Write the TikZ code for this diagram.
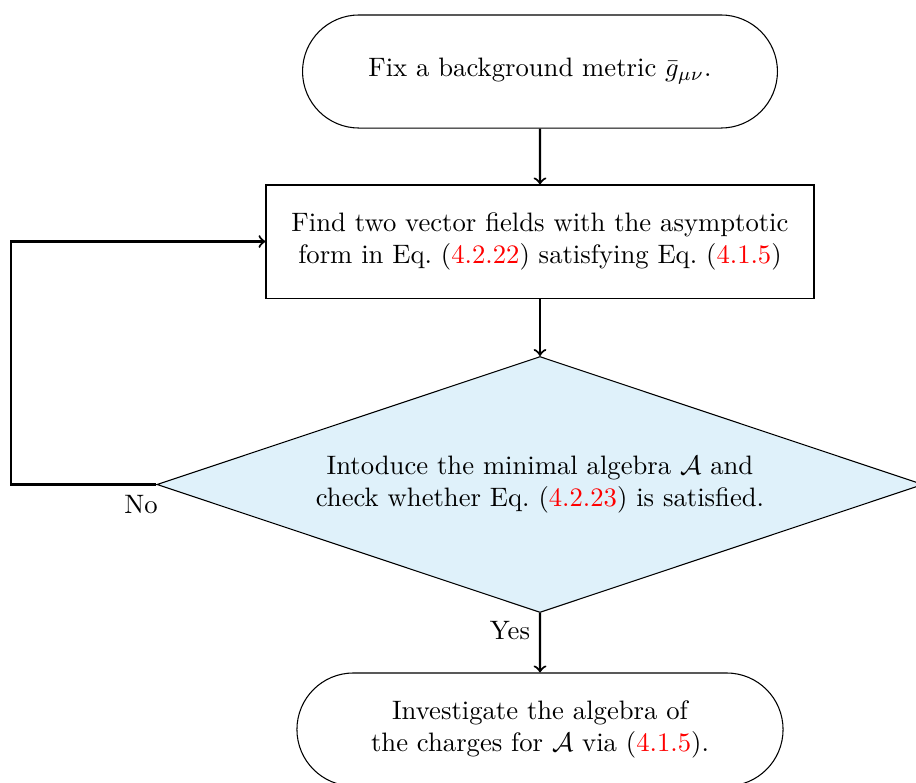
\documentclass[tikz,border=0pt]{standalone}
\usetikzlibrary{shapes.misc,shapes.geometric}
\definecolor{decfill}{RGB}{223,241,250}
\tikzset{
  terminal/.style={draw, rounded rectangle, align=center, line width=0.4pt, inner sep=0pt},
  process/.style={draw, rectangle, align=center, line width=0.4pt, inner sep=0pt},
  decision/.style={draw, diamond, aspect=3, fill=decfill, align=center, line width=0.4pt, inner sep=0pt},
  conn/.style={->, line width=0.8pt},
  lbl/.style={inner sep=0pt}
}
\newcommand{\eqref}[1]{(\textcolor{red}{#1})}
\begin{document}
\begin{tikzpicture}[x=0.375pt, y=-0.375pt]
\useasboundingbox (0,0) rectangle (916,783);
\node[terminal, minimum width=178.1pt, minimum height=42.4pt] (start) at (540,71.5) {Fix a background metric $\bar g_{\mu\nu}$.};
\node[process, minimum width=205.5pt, minimum height=42.4pt] (find) at (540,241.5) {Find two vector fields with the asymptotic\\form in Eq.~\eqref{4.2.22} satisfying Eq.~\eqref{4.1.5}};
\node[decision, minimum width=287.3pt, minimum height=96pt] (check) at (540,484.5) {Intoduce the minimal algebra $\mathcal{A}$ and\\check whether Eq.~\eqref{4.2.23} is satisfied.};
\node[terminal, minimum width=182.3pt, minimum height=42.4pt] (inv) at (540,729.5) {Investigate the algebra of\\the charges for $\mathcal{A}$ via \eqref{4.1.5}.};
\coordinate (cornerT) at (11,241.5);
\coordinate (cornerB) at (check.west -| cornerT);
\draw[conn] (start) -- (find);
\draw[conn] (find) -- (check);
\draw[conn] (check.south) -- (inv);
\draw[conn] (check.west) -- (cornerB) -- (cornerT) -- (find.west);
\node[lbl] (no) at (141,505) {No};
\node[lbl] (yes) at (510,631) {Yes};
\end{tikzpicture}
\end{document}
